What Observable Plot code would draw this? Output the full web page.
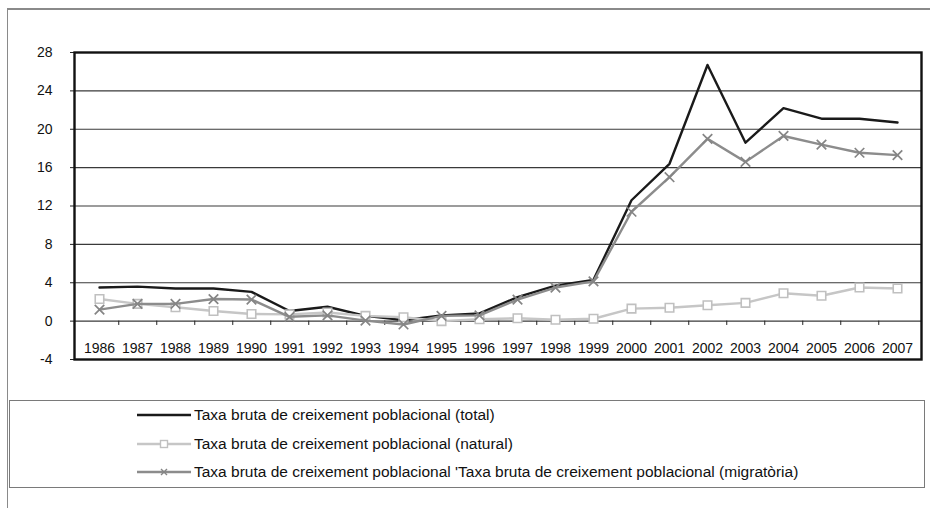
<!DOCTYPE html>
<html>
<head>
<meta charset="utf-8">
<script src="https://cdn.jsdelivr.net/npm/d3@7"></script>
<script src="https://cdn.jsdelivr.net/npm/@observablehq/plot@0.6"></script>
<style>
  html, body { margin: 0; padding: 0; background: #fff; }
  #wrap { position: relative; width: 930px; height: 508px; overflow: hidden; font-family: "Liberation Sans", Arial, sans-serif; background: #fff; }
  #outer { position: absolute; z-index: 2; left: 7px; top: 8px; width: 940px; height: 520px; border-top: 2px solid #8a8a8a; border-left: 1.5px solid #8a8a8a; box-sizing: border-box; pointer-events: none; }
  #chart { position: absolute; left: 0; top: 0; z-index: 1; }
  #legend { position: absolute; z-index: 1; left: 9px; top: 400px; width: 916px; height: 88px; border: 1px solid #7a7a7a; box-sizing: border-box; background: #fff; }
  .row { position: absolute; left: 127px; height: 20px; display: flex; align-items: center; font-size: 15.5px; color: #111; white-space: nowrap; }
  .row svg { margin-right: 3px; }
</style>
</head>
<body>
<div id="wrap">
  <div id="chart"></div>
  <div id="legend"></div>
  <div id="outer"></div>
</div>
<script>
const years = ["1986","1987","1988","1989","1990","1991","1992","1993","1994","1995","1996","1997","1998","1999","2000","2001","2002","2003","2004","2005","2006","2007"];
const total = [3.5, 3.6, 3.4, 3.4, 3.05, 1.05, 1.5, 0.55, 0.1, 0.6, 0.8, 2.5, 3.7, 4.3, 12.6, 16.4, 26.7, 18.6, 22.2, 21.1, 21.1, 20.7];
const natural = [2.3, 1.8, 1.45, 1.05, 0.75, 0.7, 0.9, 0.55, 0.4, 0.0, 0.2, 0.3, 0.15, 0.25, 1.3, 1.4, 1.65, 1.9, 2.9, 2.65, 3.5, 3.4];
const migratory = [1.2, 1.8, 1.8, 2.3, 2.25, 0.45, 0.6, 0.05, -0.35, 0.55, 0.6, 2.25, 3.5, 4.15, 11.4, 15.0, 19.0, 16.6, 19.3, 18.4, 17.55, 17.3];
const yTicks = [-4, 0, 4, 8, 12, 16, 20, 24, 28];
const gridValues = [0, 4, 8, 12, 16, 20, 24];
const seriesNames = [
  "Taxa bruta de creixement poblacional (total)",
  "Taxa bruta de creixement poblacional (natural)",
  "Taxa bruta de creixement poblacional 'Taxa bruta de creixement poblacional (migratòria)"
];

const rows = (vals, s) => years.map((y, i) => ({year: y, value: vals[i], series: s}));
const dTotal = rows(total, seriesNames[0]);
const dNatural = rows(natural, seriesNames[1]);
const dMigr = rows(migratory, seriesNames[2]);

const W = 930, H = 400;
const mL = 74, mR = 9, mT = 52, mB = 41;
const step = (W - mL - mR) / years.length;
const boundaries = years.slice(0, -1);

const chart = Plot.plot({
  width: W,
  height: H,
  marginLeft: mL,
  marginRight: mR,
  marginTop: mT,
  marginBottom: mB,
  style: {fontFamily: "'Liberation Sans', Arial, sans-serif", background: "transparent", color: "#111"},
  x: {type: "point", domain: years, padding: 0.5, axis: null},
  y: {domain: [-4, 28], axis: null},
  marks: [
    Plot.gridY(gridValues, {stroke: "#3a3a3a", strokeOpacity: 1, strokeWidth: 1.1}),
    Plot.ruleX(boundaries, {x: d => d, dx: step / 2, y1: 0, y2: -0.45, stroke: "#222", strokeWidth: 1}),
    Plot.axisY({ticks: yTicks, tickSize: 4, tickPadding: 18, fontSize: 14, stroke: "#222", label: null, tickFormat: d => String(d)}),
    Plot.text(years, {x: d => d, frameAnchor: "bottom", dy: -7, fontSize: 14, fill: "#111"}),
    Plot.frame({stroke: "#111", strokeWidth: 2.4}),
    Plot.line(dTotal, {x: "year", y: "value", stroke: "#1a1a1a", strokeWidth: 2.4}),
    Plot.line(dNatural, {x: "year", y: "value", stroke: "#c6c6c6", strokeWidth: 2.4}),
    Plot.dot(dNatural, {x: "year", y: "value", symbol: "square", r: 4.8, stroke: "#c0c0c0", strokeWidth: 1.6, fill: "white"}),
    Plot.line(dMigr, {x: "year", y: "value", stroke: "#8c8c8c", strokeWidth: 2.4}),
    Plot.dot(dMigr, {x: "year", y: "value", symbol: "times", r: 4.4, stroke: "#858585", strokeWidth: 1.7})
  ]
});
document.getElementById("chart").appendChild(chart);

// Legend
const legend = document.getElementById("legend");
const legendStyles = [
  {stroke: "#1a1a1a", marker: null},
  {stroke: "#c6c6c6", marker: "square"},
  {stroke: "#8c8c8c", marker: "times"}
];
seriesNames.forEach((name, i) => {
  const row = document.createElement("div");
  row.className = "row";
  row.style.top = (4 + i * 28.5) + "px";
  const st = legendStyles[i];
  let marker = "";
  if (st.marker === "square") marker = `<rect x="23.5" y="6.5" width="7" height="7" fill="white" stroke="#c0c0c0" stroke-width="1.4"/>`;
  if (st.marker === "times") marker = `<path d="M24 7 L30 13 M30 7 L24 13" stroke="#858585" stroke-width="1.4"/>`;
  row.innerHTML = `<svg width="54" height="20"><line x1="0" y1="10" x2="54" y2="10" stroke="${st.stroke}" stroke-width="2.4"/>${marker}</svg><span>${name}</span>`;
  legend.appendChild(row);
});
</script>
</body>
</html>
